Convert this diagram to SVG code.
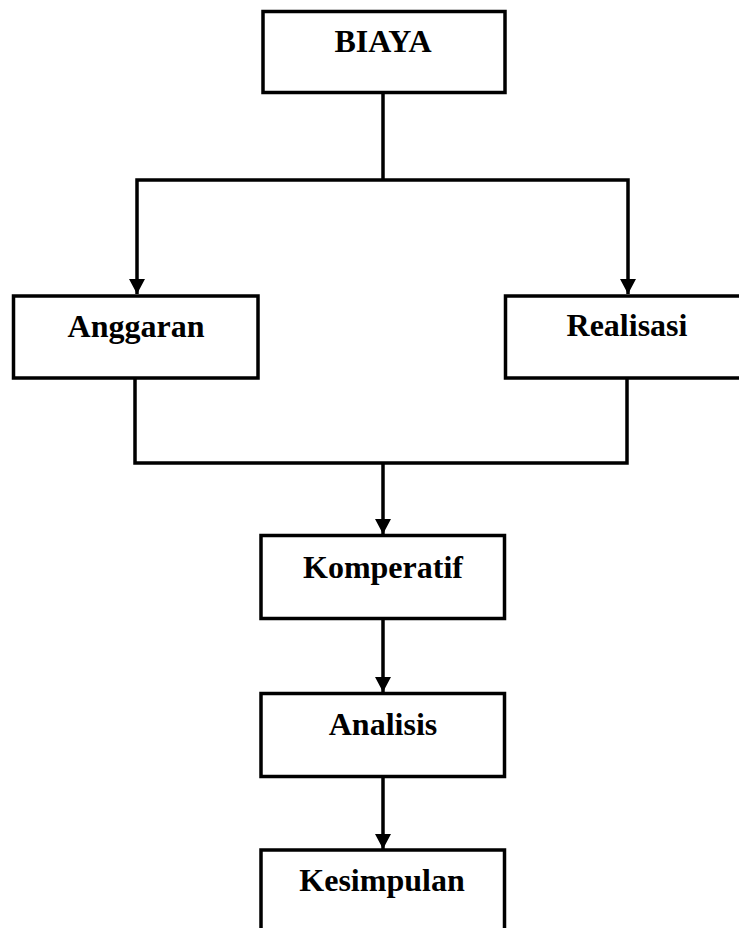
<svg xmlns="http://www.w3.org/2000/svg" width="739" height="928" viewBox="0 0 739 928">
<style>
.box{fill:#fff;stroke:#000;stroke-width:3.5}
.lbl{font-family:"Liberation Serif","Times New Roman",serif;font-weight:bold;font-size:32px;fill:#000;text-anchor:middle}
.ln{fill:none;stroke:#000;stroke-width:3.5}
</style>
<defs>
<marker id="ah" viewBox="0 0 15 16" refX="15" refY="8" markerWidth="15" markerHeight="16" markerUnits="userSpaceOnUse" orient="auto">
<path d="M0,0 L15,8 L0,16 z" fill="#000"/>
</marker>
</defs>
<rect width="739" height="928" fill="#fff"/>
<g id="connectors">
<line class="ln" x1="383" y1="92" x2="383" y2="180"/>
<polyline class="ln" points="383,180 137,180 137,294" marker-end="url(#ah)"/>
<polyline class="ln" points="383,180 628,180 628,294" marker-end="url(#ah)"/>
<polyline class="ln" points="135,378 135,463 627,463 627,378"/>
<line class="ln" x1="383" y1="463" x2="383" y2="534" marker-end="url(#ah)"/>
<line class="ln" x1="383" y1="619" x2="383" y2="692" marker-end="url(#ah)"/>
<line class="ln" x1="383" y1="777" x2="383" y2="849" marker-end="url(#ah)"/>
</g>
<g id="biaya">
<rect class="box" x="263" y="11.5" width="242" height="81"/>
<text class="lbl" x="383" y="52">BIAYA</text>
</g>
<g id="anggaran">
<rect class="box" x="13.5" y="296" width="244.5" height="82"/>
<text class="lbl" x="136" y="337">Anggaran</text>
</g>
<g id="realisasi">
<rect class="box" x="505.5" y="296" width="260" height="82"/>
<text class="lbl" x="627" y="336">Realisasi</text>
</g>
<g id="komperatif">
<rect class="box" x="261" y="535.5" width="243.5" height="83"/>
<text class="lbl" x="383" y="578">Komperatif</text>
</g>
<g id="analisis">
<rect class="box" x="261" y="693.5" width="243.5" height="83"/>
<text class="lbl" x="383" y="735">Analisis</text>
</g>
<g id="kesimpulan">
<rect class="box" x="261" y="850" width="243.5" height="100"/>
<text class="lbl" x="382" y="891">Kesimpulan</text>
</g>
</svg>
